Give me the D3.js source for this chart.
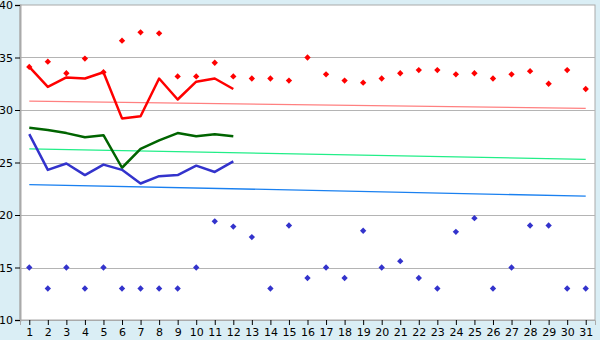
<!DOCTYPE html>
<html>
<head>
<meta charset="utf-8">
<script src="https://cdn.jsdelivr.net/npm/d3@7"></script>
<style>
  body { margin: 0; background: #daeef5; }
  svg { display: block; }
  .tick text { font-family: "DejaVu Sans", Verdana, sans-serif; font-size: 11px; fill: #000; }
</style>
</head>
<body>
<div id="chart"></div>
<script>
const width = 600;
const height = 340;
const margin = {top: 5, right: 5, bottom: 20, left: 20};

const days = d3.range(1, 32);
const yTicks = [10, 15, 20, 25, 30, 35, 40];

// record highs / lows for each day
const maxRecord = [34.1, 34.6, 33.5, 34.9, 33.6, 36.6, 37.4, 37.3, 33.2, 33.2,
  34.5, 33.2, 33.0, 33.0, 32.8, 35.0, 33.4, 32.8, 32.6, 33.0,
  33.5, 33.8, 33.8, 33.4, 33.5, 33.0, 33.4, 33.7, 32.5, 33.8, 32.0];
const minRecord = [15, 13, 15, 13, 15, 13, 13, 13, 13, 15,
  19.4, 18.9, 17.9, 13, 19.0, 14.0, 15, 14.0, 18.5, 15,
  15.6, 14.0, 13, 18.4, 19.7, 13, 15, 19.0, 19.0, 13, 13];

// this month so far (days 1-12)
const highTemp = [34.1, 32.2, 33.1, 33.0, 33.6, 29.2, 29.4, 33.0, 31.0, 32.7, 33.0, 32.0];
const meanTemp = [28.3, 28.1, 27.8, 27.4, 27.6, 24.5, 26.3, 27.1, 27.8, 27.5, 27.7, 27.5];
const lowTemp = [27.7, 24.3, 24.9, 23.8, 24.8, 24.3, 23.0, 23.7, 23.8, 24.7, 24.1, 25.1];

// normals (trend, first and last day)
const trendDays = [1, 31];
const normalHigh = [30.85, 30.15];
const normalMean = [26.3, 25.3];
const normalLow = [22.9, 21.8];

const svg = d3.select('#chart')
  .append('svg')
  .attr('width', width)
  .attr('height', height);

const x = d3.scalePoint()
  .domain(days)
  .range([margin.left, width - margin.right])
  .padding(0.5);

const y = d3.scaleLinear()
  .domain([10, 40])
  .range([height - margin.bottom, margin.top]);

svg.append('rect')
  .attr('x', margin.left)
  .attr('y', margin.top)
  .attr('width', width - margin.left - margin.right)
  .attr('height', height - margin.top - margin.bottom)
  .attr('fill', '#fff')
  .attr('stroke', '#aaa');

// grid
svg.append('g')
  .selectAll('line')
  .data(yTicks.slice(1, -1))
  .enter()
  .append('line')
  .attr('x1', margin.left)
  .attr('x2', width - margin.right)
  .attr('y1', d => Math.round(y(d)) + 0.5)
  .attr('y2', d => Math.round(y(d)) + 0.5)
  .attr('stroke', '#b4b4b4');

// axes
const yAxis = svg.append('g')
  .attr('transform', `translate(${margin.left},0)`)
  .call(d3.axisLeft(y).tickValues(yTicks).tickSize(5).tickPadding(2));
yAxis.select('.domain').attr('stroke', '#aaa').attr('stroke-width', 2);

const xAxis = svg.append('g')
  .attr('transform', `translate(0,${height - margin.bottom})`)
  .call(d3.axisBottom(x).tickSize(5).tickPadding(3));
xAxis.select('.domain').attr('stroke', '#aaa');

// trend lines
const trend = d3.line()
  .x((d, i) => x(trendDays[i]))
  .y(d => y(d));

[[normalHigh, '#ff8080'], [normalMean, '#22ee88'], [normalLow, '#1a80f0']].forEach(([vals, c]) => {
  svg.append('path')
    .attr('d', trend(vals))
    .attr('fill', 'none')
    .attr('stroke', c)
    .attr('stroke-width', 1.3);
});

// daily lines
const line = d3.line()
  .x((d, i) => x(days[i]))
  .y(d => y(d));

[[highTemp, '#ff0000'], [meanTemp, '#006400'], [lowTemp, '#3333cc']].forEach(([vals, c]) => {
  svg.append('path')
    .attr('d', line(vals))
    .attr('fill', 'none')
    .attr('stroke', c)
    .attr('stroke-width', 2.5)
    .attr('stroke-linejoin', 'round');
});

// record markers
const marker = d3.symbol().type(d3.symbolSquare).size(20);

[[maxRecord, '#ff0000'], [minRecord, '#3333cc']].forEach(([vals, c]) => {
  svg.append('g')
    .selectAll('path')
    .data(vals)
    .enter()
    .append('path')
    .attr('d', marker)
    .attr('transform', (d, i) => `translate(${x(days[i])},${y(d)}) rotate(45)`)
    .attr('fill', c);
});
</script>
</body>
</html>
